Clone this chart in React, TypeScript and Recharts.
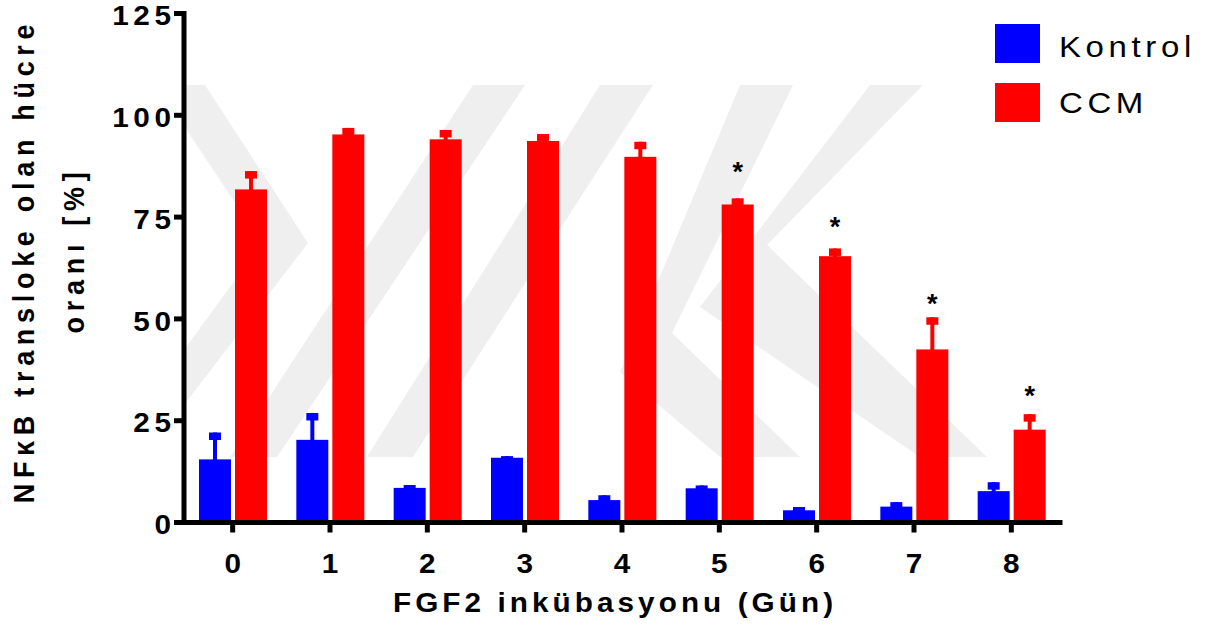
import React from 'react';
import { BarChart, Bar, XAxis, YAxis, LabelList, Customized } from 'recharts';

// ---- data ----
const days = ['0', '1', '2', '3', '4', '5', '6', '7', '8'];
const kontrolMean = [15.5, 20.3, 8.5, 15.9, 5.5, 8.4, 3.0, 3.9, 7.7];
const kontrolErr = [6.6, 6.6, 0.7, 0.4, 1.2, 0.7, 0.8, 1.1, 2.2];
const ccmMean = [81.8, 95.3, 94.1, 93.7, 89.8, 78.1, 65.4, 42.5, 22.8];
const ccmErr = [4.5, 1.6, 2.3, 1.7, 3.7, 1.5, 1.9, 7.9, 3.8];
const ccmStarAt: (number | null)[] = [null, null, null, null, null, 87.5, 73.8, 55.1, 32.5];
const yTicks = [0, 25, 50, 75, 100, 125];
const seriesNames = ['Kontrol', 'CCM'];
const seriesColors = ['#0000ff', '#ff0000'];
const xTitle = 'FGF2 inkübasyonu (Gün)';
const yTitle1 = 'NFκB transloke olan hücre';
const yTitle2 = 'oranı [%]';

const data = days.map((d, i) => ({
  day: d,
  kontrol: kontrolMean[i],
  kontrolErr: kontrolErr[i],
  ccm: ccmMean[i],
  ccmErr: ccmErr[i],
  star: ccmStarAt[i],
}));

const FONT = '"Liberation Sans", Arial, Helvetica, sans-serif';
const SX = 1.1;

const STxt = ({ x, y, anchor = 'start', size = 27, weight = 'bold', ls = 4.2, children }: any) => {
  let dx = 0;
  if (anchor === 'end') dx = ls;
  if (anchor === 'middle') dx = ls / 2;
  return (
    <text
      transform={`translate(${x},${y}) scale(${SX},1)`}
      x={dx}
      y={0}
      textAnchor={anchor}
      fontFamily={FONT}
      fontSize={size}
      fontWeight={weight}
      letterSpacing={ls}
      fill="#000"
    >
      {children}
    </text>
  );
};

const makeShape = (valKey: string, errKey: string, color: string) => (props: any) => {
  const { x, y, width, height, payload } = props;
  const v = payload[valKey];
  const e = payload[errKey];
  const ppu = v ? height / v : 0;
  const capY = y - e * ppu;
  const cx = x + width / 2;
  return (
    <g>
      <rect x={x} y={y} width={width} height={height} fill={color} />
      <rect x={cx - 2} y={capY} width={4} height={y - capY + 1} fill={color} />
      <rect x={cx - 6} y={capY} width={12} height={7.5} fill={color} />
    </g>
  );
};

const StarLabel = (props: any) => {
  const { x, y, width, height, index } = props;
  const row = data[index];
  if (row.star == null) return null;
  const ppu = height / row.ccm;
  const base = y + height;
  const sy = base - row.star * ppu;
  return (
    <text
      x={x + width / 2}
      y={sy + 14.5}
      textAnchor="middle"
      fontFamily={FONT}
      fontSize={27}
      fontWeight="bold"
      fill="#000"
    >
      *
    </text>
  );
};

const YTick = (props: any) => {
  const { x, y, payload } = props;
  return (
    <STxt x={x} y={y + 11.7} anchor="end" ls={4.2}>
      {String(payload.value)}
    </STxt>
  );
};

const XTick = (props: any) => {
  const { x, y, payload } = props;
  return (
    <STxt x={x} y={y + 40.5} anchor="middle" ls={0}>
      {String(payload.value)}
    </STxt>
  );
};

const Decor = () => (
  <g>
    {/* y-axis title */}
    <text
      transform={`translate(33.5,261) scale(${SX},1) rotate(-90)`}
      textAnchor="middle"
      fontFamily={FONT}
      fontSize={27}
      fontWeight="bold"
      letterSpacing={5.7}
      fill="#000"
    >
      {yTitle1}
    </text>
    <text
      transform={`translate(83.5,250) scale(${SX},1) rotate(-90)`}
      textAnchor="middle"
      fontFamily={FONT}
      fontSize={27}
      fontWeight="bold"
      letterSpacing={5.7}
      fill="#000"
    >
      {yTitle2}
    </text>
    {/* x-axis title */}
    <STxt x={613} y={612} anchor="middle" ls={3.7}>
      {xTitle}
    </STxt>
    {/* legend */}
    {seriesNames.map((n, i) => (
      <g key={n}>
        <rect x={995} y={24 + i * 59} width={45} height={39} fill={seriesColors[i]} />
        <STxt x={1059} y={57 + i * 56} size={30} weight="normal" ls={4.2}>
          {n}
        </STxt>
      </g>
    ))}
  </g>
);

const WM = '#efefef';
const watermark: string[] = [
  '184,85 205,85 308,243 184,405 184,350 262,243 184,126',
  '473,85 525,85 277,457 230,457',
  '600,85 653,85 413,457 367,457',
  '740,85 793,85 672,333 800,457 720,457 620,372',
  '870,85 923,85 767,245 987,457 920,457 700,307',
];

export default function App() {
  return (
    <div style={{ position: 'absolute', left: 0, top: 0, width: 1212, height: 636, background: '#fff' }}>
      <svg width={1212} height={636} style={{ position: 'absolute', left: 0, top: 0 }}>
        {watermark.map((p, i) => (
          <polygon key={i} points={p} fill={WM} />
        ))}
      </svg>
      <div style={{ position: 'absolute', left: 0, top: 0 }}>
        <BarChart
          width={1212}
          height={636}
          data={data}
          margin={{ top: 13.5, right: 152, bottom: 53.5, left: 0 }}
          barSize={32}
          barGap={4}
        >
          <XAxis
            dataKey="day"
            height={60}
            interval={0}
            tickSize={10}
            tickMargin={0}
            axisLine={{ stroke: '#000', strokeWidth: 5, strokeLinecap: 'square' }}
            tickLine={{ stroke: '#000', strokeWidth: 5 }}
            tick={<XTick />}
          />
          <YAxis
            width={184}
            domain={[0, 125]}
            ticks={yTicks}
            interval={0}
            tickSize={10}
            tickMargin={3}
            axisLine={{ stroke: '#000', strokeWidth: 5, strokeLinecap: 'square' }}
            tickLine={{ stroke: '#000', strokeWidth: 5 }}
            tick={<YTick />}
          />
          <Bar
            dataKey="kontrol"
            name={seriesNames[0]}
            fill={seriesColors[0]}
            isAnimationActive={false}
            shape={makeShape('kontrol', 'kontrolErr', seriesColors[0])}
          />
          <Bar
            dataKey="ccm"
            name={seriesNames[1]}
            fill={seriesColors[1]}
            isAnimationActive={false}
            shape={makeShape('ccm', 'ccmErr', seriesColors[1])}
          >
            <LabelList dataKey="ccm" content={<StarLabel />} />
          </Bar>
          <Customized component={<Decor />} />
        </BarChart>
      </div>
    </div>
  );
}
